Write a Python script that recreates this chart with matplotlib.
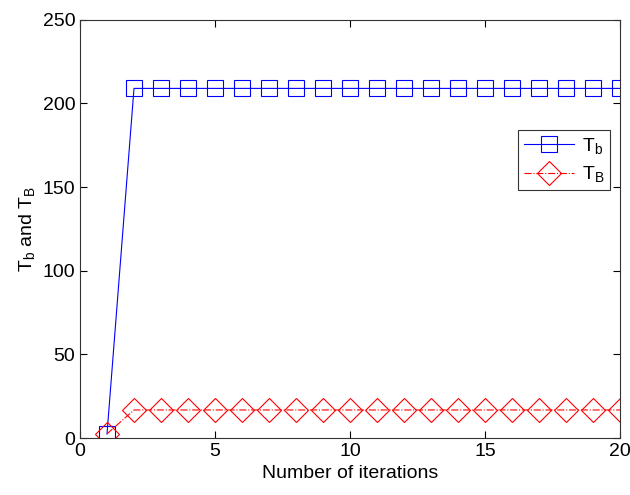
import numpy as np
import matplotlib
matplotlib.use("Agg")
import matplotlib.pyplot as plt

plt.rcParams["font.family"] = ["Liberation Sans", "DejaVu Sans"]
plt.rcParams["mathtext.fontset"] = "custom"
plt.rcParams["mathtext.rm"] = "Liberation Sans"

iterations = list(range(1, 21))
t_b = [2.5] + [209.0] * 19
t_B = [2.5] + [16.8] * 19

fig = plt.figure(figsize=(6.3, 4.95), dpi=100)
ax = fig.add_axes([0.127, 0.115, 0.857, 0.845])

ax.plot(iterations, t_b, color="blue", lw=0.8, marker="s", ms=11,
        mfc="none", mec="blue", mew=0.8, label=r"$\mathrm{T_b}$")
ax.plot(iterations, t_B, color="red", lw=0.8, ls="-.", marker="D", ms=12,
        mfc="none", mec="red", mew=0.8, label=r"$\mathrm{T_B}$")

ax.set_xlim(0, 20)
ax.set_ylim(0, 250)
ax.set_xticks([0, 5, 10, 15, 20])
ax.set_yticks([0, 50, 100, 150, 200, 250])
ax.tick_params(direction="in", top=True, right=True, labelsize=14, length=5)
for s in ax.spines.values():
    s.set_linewidth(0.8)
    s.set_color("#333333")
ax.set_xlabel("Number of iterations", fontsize=14)
ax.set_ylabel(r"$\mathrm{T_b}$ and $\mathrm{T_B}$", fontsize=14)

leg = ax.legend(loc="upper right", bbox_to_anchor=(0.982, 0.737), fontsize=14,
                fancybox=False, edgecolor="black", handlelength=2.6,
                borderpad=0.3, labelspacing=0.45, handletextpad=0.4,
                borderaxespad=0)
leg.get_frame().set_linewidth(0.8)

fig.savefig("out.png", dpi=100)
